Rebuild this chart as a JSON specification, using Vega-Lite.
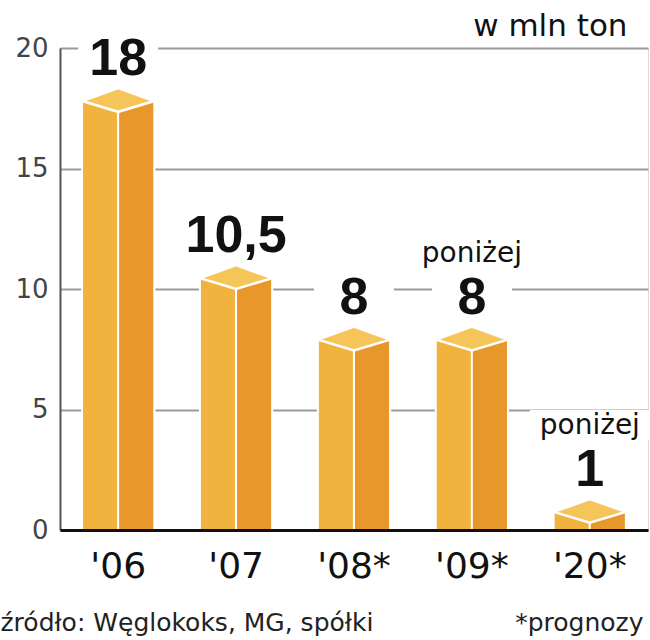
{
  "$schema": "https://vega.github.io/schema/vega-lite/v6.json",
  "width": 588,
  "height": 482,
  "autosize": "none",
  "padding": {"left": 60, "top": 48, "right": 2, "bottom": 110},
  "background": "white",
  "data": {
    "values": [
      {"year": "'06", "value": 17.8, "label": "18", "note": ""},
      {"year": "'07", "value": 10.45, "label": "10,5", "note": ""},
      {"year": "'08*", "value": 7.9, "label": "8", "note": ""},
      {"year": "'09*", "value": 7.9, "label": "8", "note": "poniżej"},
      {"year": "'20*", "value": 0.75, "label": "1", "note": "poniżej"}
    ]
  },
  "encoding": {
    "x": {
      "field": "year", "type": "nominal", "sort": null,
      "scale": {"type": "band", "paddingInner": 0.387, "paddingOuter": 0.187},
      "axis": {
        "title": "źródło: Węglokoks, MG, spółki",
        "titleFont": "DejaVu Sans", "titleFontSize": 25, "titleFontWeight": "normal", "titleColor": "#222",
        "titleX": -60, "titleY": 100, "titleAlign": "left", "titleAnchor": "start", "titleBaseline": "alphabetic", "titleAngle": 0,
        "labelAngle": 0, "labelFont": "DejaVu Sans", "labelFontSize": 36, "labelColor": "#111", "labelPadding": 19, "labelBaseline": "top",
        "ticks": false, "domainColor": "#111", "domainWidth": 3, "grid": false, "zindex": 1
      }
    }
  },
  "resolve": {"axis": {"y": "independent"}},
  "layer": [
    {
      "mark": {"type": "point", "shape": "M-1,-0.55L1,-0.55L1,0.55L-1,0.55Z", "size": 6400, "filled": true, "fill": "white", "strokeWidth": 0, "opacity": 1, "yOffset": -44},
      "encoding": {
        "y": {
          "field": "value", "type": "quantitative",
          "scale": {"domain": [0, 20], "nice": false},
          "axis": {
            "orient": "left",
            "values": [0, 5, 10, 15, 20],
            "title": "w mln ton",
            "titleFont": "DejaVu Sans", "titleFontSize": 31, "titleFontWeight": "normal", "titleColor": "#111",
            "titleAngle": 0, "titleAlign": "right", "titleBaseline": "alphabetic", "titleX": 567, "titleY": -13,
            "labelFont": "DejaVu Sans", "labelFontSize": 26, "labelColor": "#444", "labelPadding": 12,
            "ticks": false, "domainColor": "#555", "domainWidth": 2,
            "grid": true, "gridColor": "#9a9a9a", "gridWidth": 2, "zindex": 0
          }
        }
      }
    },
    {
      "transform": [{"filter": "datum.note != ''"}],
      "mark": {"type": "point", "shape": "M-1,-0.25L1,-0.25L1,0.25L-1,0.25Z", "size": 14400, "filled": true, "fill": "white", "strokeWidth": 0, "opacity": 1, "yOffset": -87},
      "encoding": {
        "y": {"field": "value", "type": "quantitative", "axis": null}
      }
    },
    {
      "mark": {"type": "bar", "color": "#F2B33E", "stroke": "white", "strokeWidth": 2},
      "encoding": {
        "y": {"field": "value", "type": "quantitative", "axis": null}
      }
    },
    {
      "mark": {"type": "bar", "color": "#E8982B", "stroke": "white", "strokeWidth": 2, "width": {"band": 0.5}, "xOffset": 18},
      "encoding": {
        "y": {"field": "value", "type": "quantitative", "axis": null}
      }
    },
    {
      "mark": {"type": "point", "shape": "M-1,0L0,-0.36L1,0L0,0.3Z", "size": 5184, "filled": true, "fill": "#F6C55A", "stroke": "white", "strokeWidth": 2.5, "opacity": 1},
      "encoding": {
        "y": {
          "field": "value", "type": "quantitative",
          "axis": {
            "orient": "right",
            "title": "*prognozy",
            "titleFont": "DejaVu Sans", "titleFontSize": 25, "titleFontWeight": "normal", "titleColor": "#222",
            "titleAngle": 0, "titleAlign": "right", "titleBaseline": "alphabetic", "titleX": -5, "titleY": 582,
            "labels": false, "ticks": false, "domain": false, "grid": false
          }
        }
      }
    },
    {
      "mark": {"type": "text", "font": "Liberation Sans", "fontWeight": "bold", "fontSize": 52, "baseline": "alphabetic", "dy": -26, "color": "#111"},
      "encoding": {
        "y": {"field": "value", "type": "quantitative", "axis": null},
        "text": {"field": "label"}
      }
    },
    {
      "transform": [{"filter": "datum.note != ''"}],
      "mark": {"type": "text", "font": "DejaVu Sans", "fontSize": 28, "baseline": "alphabetic", "dy": -78, "color": "#111"},
      "encoding": {
        "y": {"field": "value", "type": "quantitative", "axis": null},
        "text": {"field": "note"}
      }
    }
  ]
}
